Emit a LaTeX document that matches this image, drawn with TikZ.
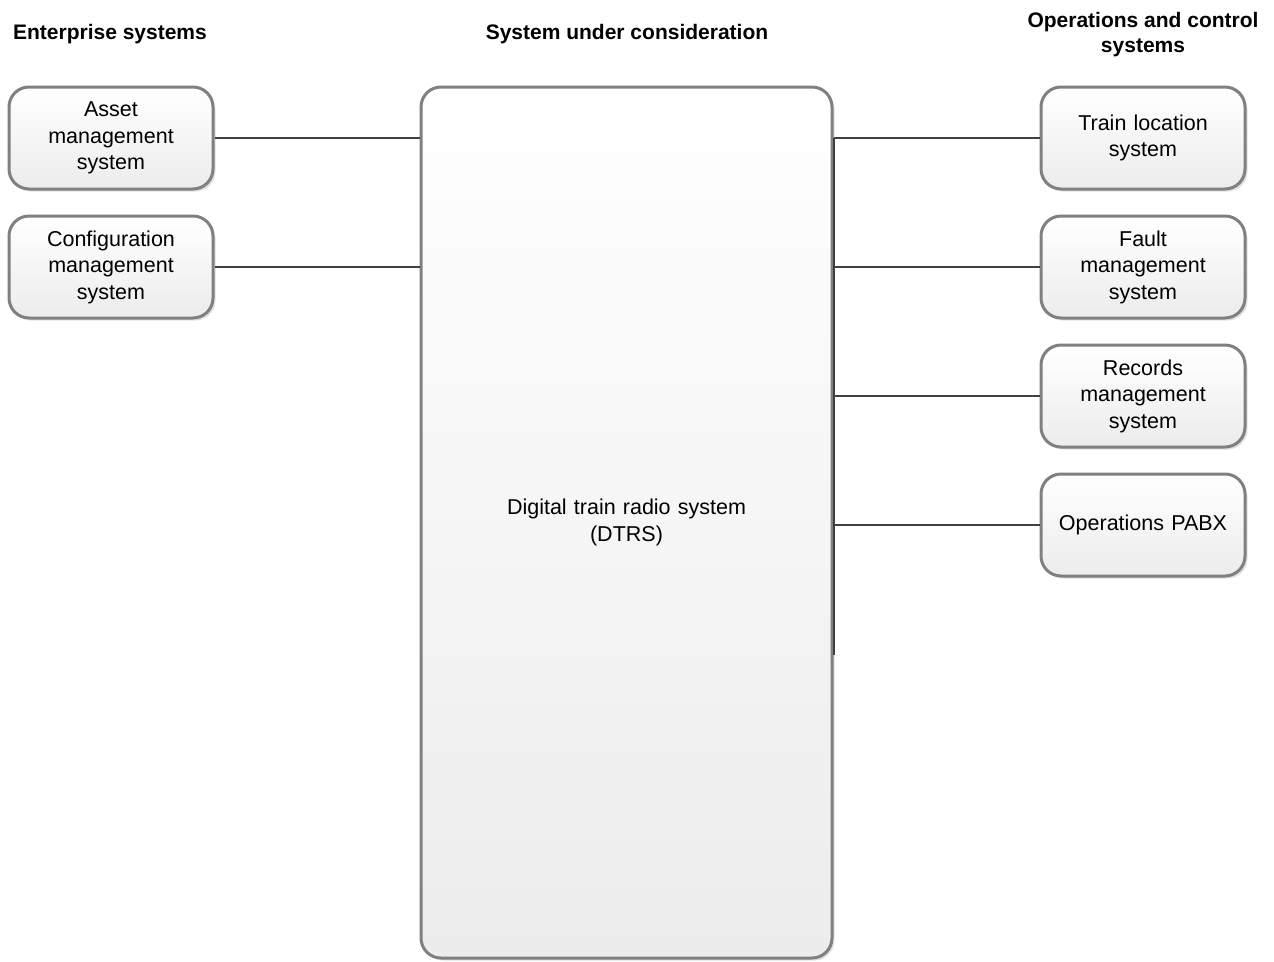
\documentclass[tikz,border=0pt]{standalone}
\usepackage{fontspec}
\setmainfont{Liberation Sans}
\usetikzlibrary{shadows,calc}
\definecolor{boxline}{HTML}{808080}
\definecolor{linkline}{HTML}{404040}
\definecolor{boxbottom}{HTML}{ECECEC}
\tikzset{
  x=1pt, y=-1pt,
  sysbox/.style={draw=boxline, line width=3pt, rounded corners=20pt,
    top color=white, bottom color=boxbottom,
    drop shadow={shadow xshift=2.5pt, shadow yshift=-2.5pt, fill=black!12, opacity=1},
    minimum width=204pt, minimum height=102pt, inner sep=0pt,
    align=center, text width=196pt,
    font=\fontsize{21.5}{26.5}\selectfont},
  mainbox/.style={sysbox, minimum width=411pt, minimum height=871pt, text width=380pt},
  heading/.style={font=\bfseries\fontsize{21}{25}\selectfont, align=center},
  link/.style={draw=linkline, line width=2pt},
}
\begin{document}
\begin{tikzpicture}
\useasboundingbox (0,0) rectangle (1274,961);

% column headings
\node[heading] (hent) at (110,34) {Enterprise systems};
\node[heading] (hsys) at (627,34) {System under consideration};
\node[heading] (hops) at (1143,35) {Operations and control\\systems};

% system under consideration
\node[mainbox] (main) at (626.5,522.5) {Digital train radio system\\(DTRS)};

% enterprise systems
\node[sysbox] (asset) at (111,138) {Asset\\management\\system};
\node[sysbox] (config) at (111,267) {Configuration\\management\\system};

% operations and control systems
\node[sysbox] (trainloc) at (1143,138) {Train location\\system};
\node[sysbox] (fault) at (1143,267) {Fault\\management\\system};
\node[sysbox] (records) at (1143,396) {Records\\management\\system};
\node[sysbox] (pabx) at (1143,525) {Operations PABX};

% links to the enterprise systems
\draw[link] (asset.east) -- (asset.east -| main.west);
\draw[link] (config.east) -- (config.east -| main.west);

% bus along the right side of the DTRS
\coordinate (busend) at ($(main.east |- 0,655)$);
\draw[link] (trainloc.west -| main.east) -- (busend);
\draw[link] (trainloc.west) -- (trainloc.west -| main.east);
\draw[link] (fault.west) -- (fault.west -| main.east);
\draw[link] (records.west) -- (records.west -| main.east);
\draw[link] (pabx.west) -- (pabx.west -| main.east);
\end{tikzpicture}
\end{document}
